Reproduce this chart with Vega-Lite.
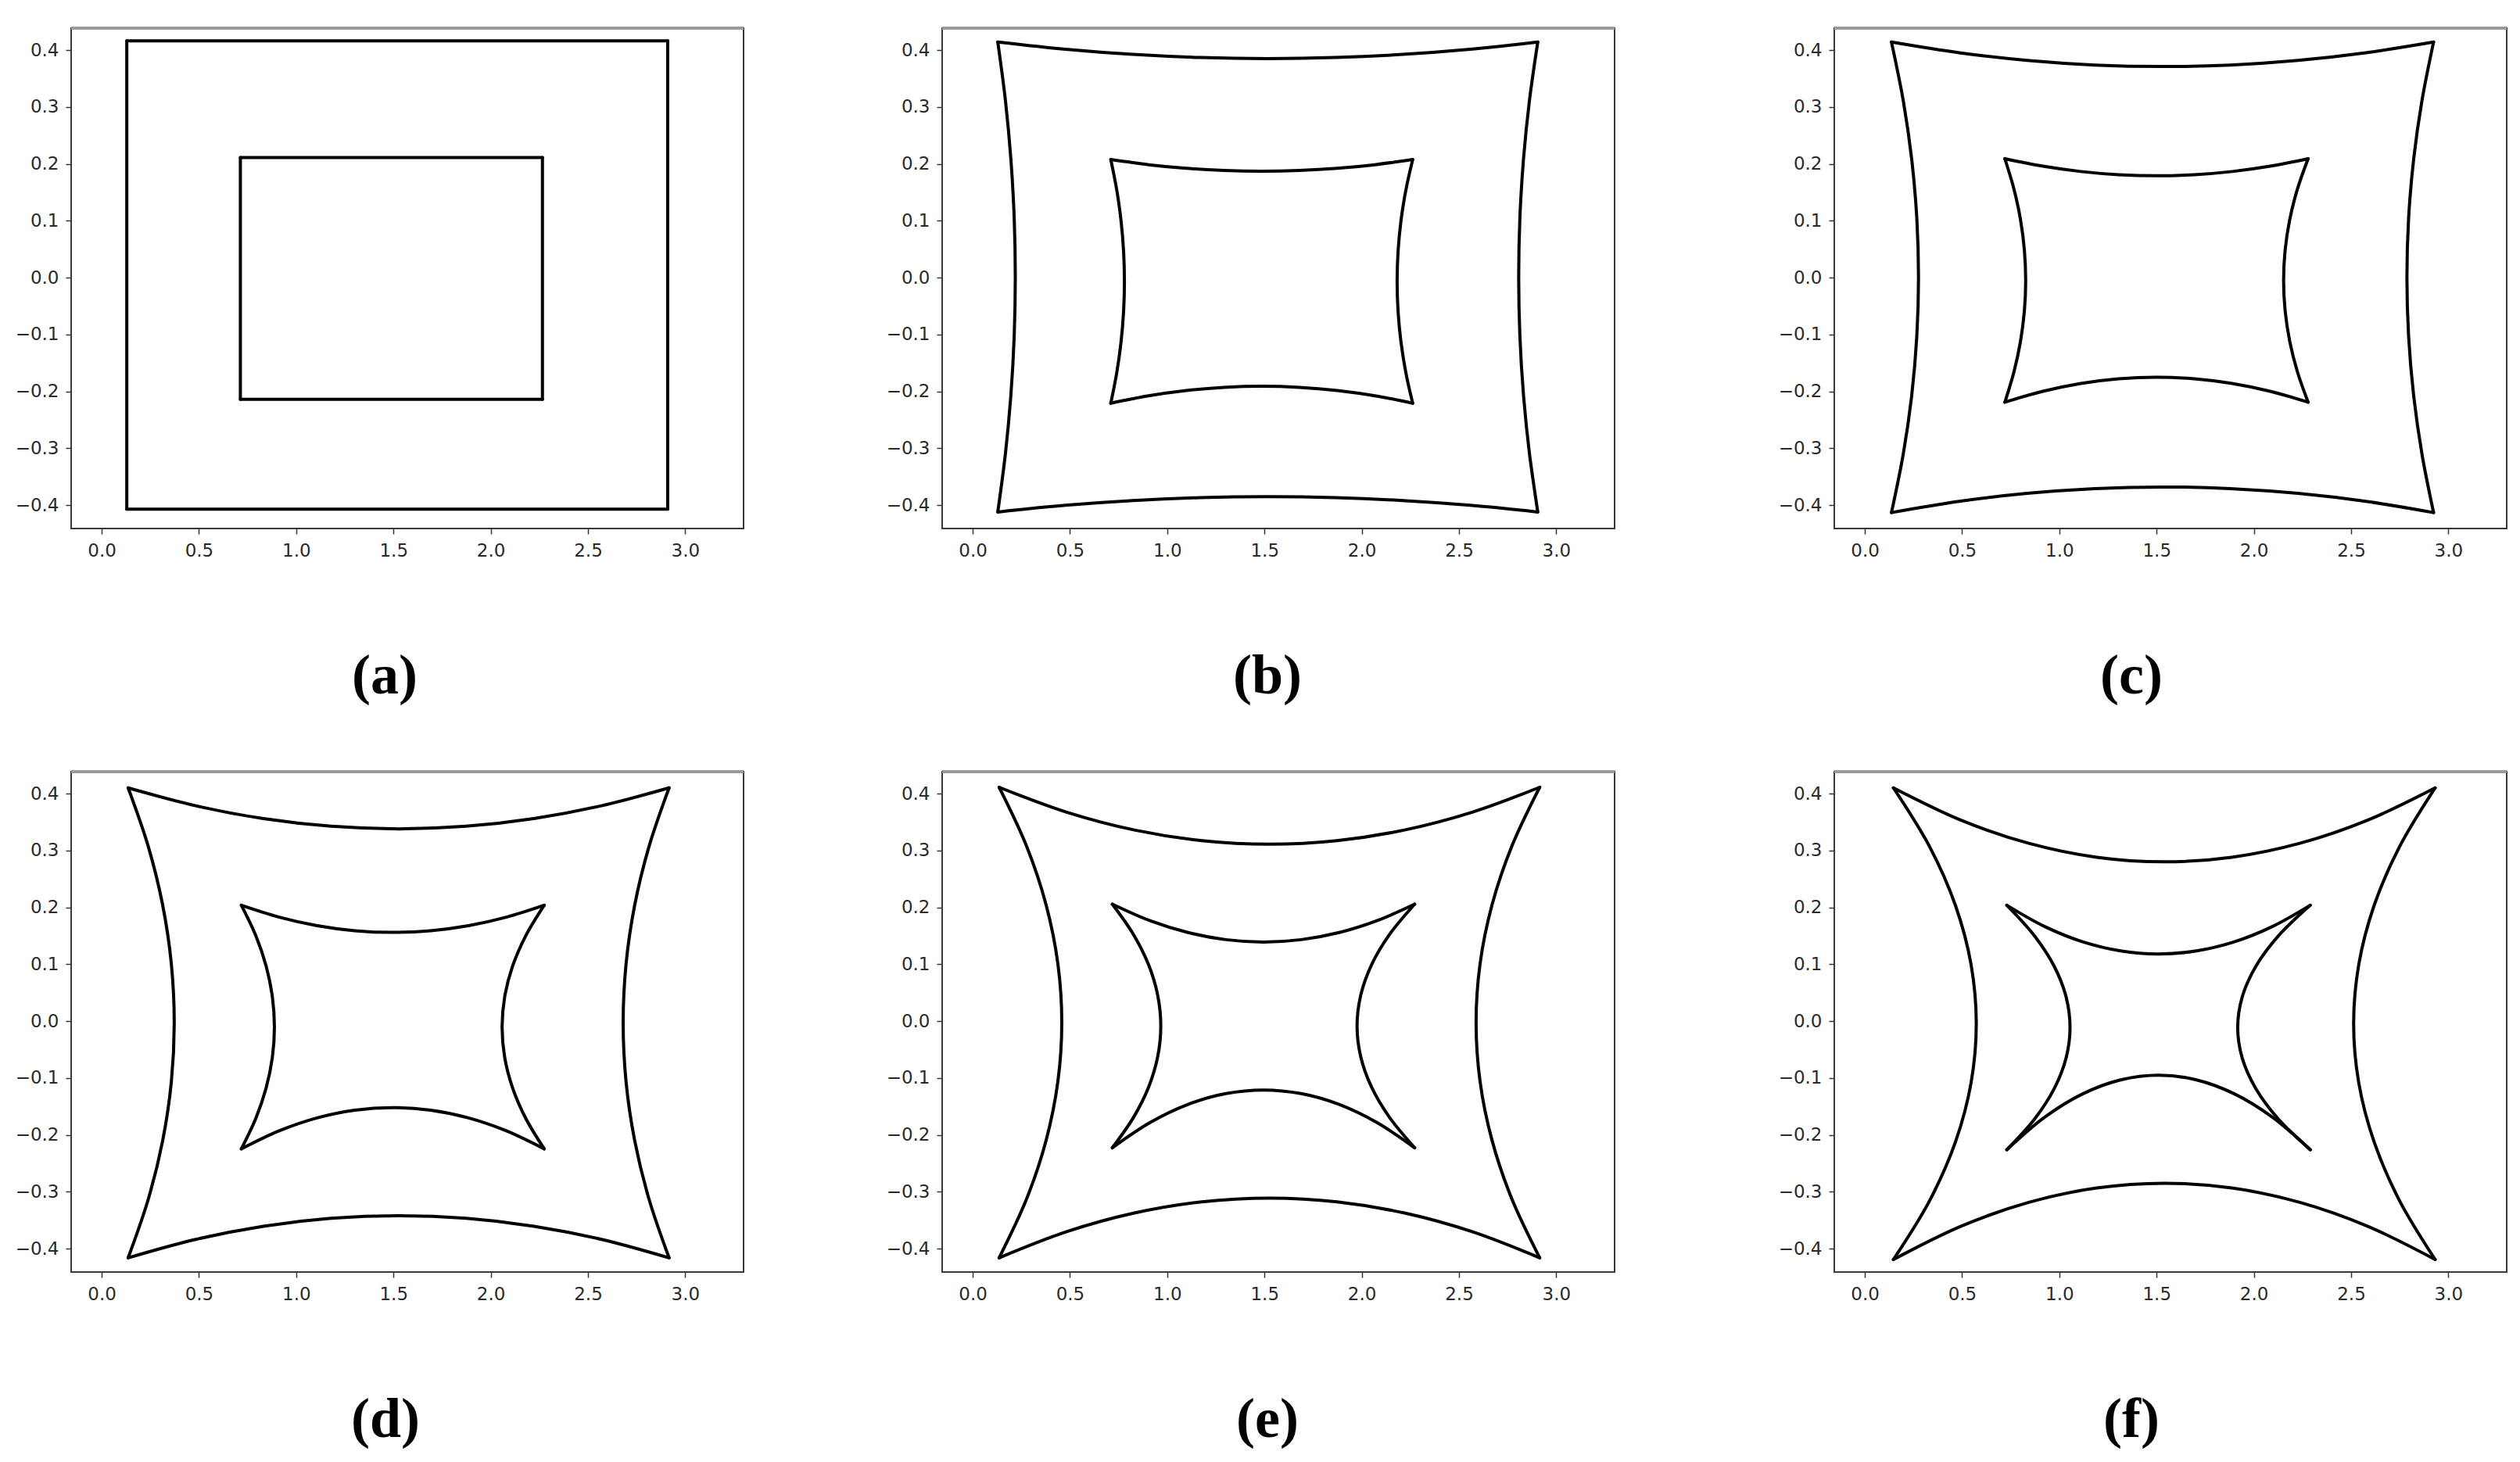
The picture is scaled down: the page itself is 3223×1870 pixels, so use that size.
{
"$schema": "https://vega.github.io/schema/vega-lite/v6.json",
"background": "white",
"padding": {"left": 18, "top": 33, "right": 0, "bottom": 0},
"datasets": {"shapes": [
{"p":"a","e":"ot","k":0,"x":0.129,"y":0.416},{"p":"a","e":"ot","k":1,"x":2.91,"y":0.416},
{"p":"a","e":"or","k":0,"x":2.91,"y":0.416},{"p":"a","e":"or","k":1,"x":2.91,"y":-0.407},
{"p":"a","e":"ob","k":0,"x":2.91,"y":-0.407},{"p":"a","e":"ob","k":1,"x":0.129,"y":-0.407},
{"p":"a","e":"ol","k":0,"x":0.129,"y":-0.407},{"p":"a","e":"ol","k":1,"x":0.129,"y":0.416},
{"p":"a","e":"it","k":0,"x":0.713,"y":0.211},{"p":"a","e":"it","k":1,"x":2.266,"y":0.211},
{"p":"a","e":"ir","k":0,"x":2.266,"y":0.211},{"p":"a","e":"ir","k":1,"x":2.266,"y":-0.214},
{"p":"a","e":"ib","k":0,"x":2.266,"y":-0.214},{"p":"a","e":"ib","k":1,"x":0.713,"y":-0.214},
{"p":"a","e":"il","k":0,"x":0.713,"y":-0.214},{"p":"a","e":"il","k":1,"x":0.713,"y":0.211},

{"p":"b","e":"ot","k":0,"x":0.129,"y":0.414},{"p":"b","e":"ot","k":1,"x":0.476,"y":0.4013},{"p":"b","e":"ot","k":2,"x":0.823,"y":0.3923},{"p":"b","e":"ot","k":3,"x":1.17,"y":0.3868},{"p":"b","e":"ot","k":4,"x":1.517,"y":0.385},{"p":"b","e":"ot","k":5,"x":1.864,"y":0.3868},{"p":"b","e":"ot","k":6,"x":2.211,"y":0.3923},{"p":"b","e":"ot","k":7,"x":2.558,"y":0.4013},{"p":"b","e":"ot","k":8,"x":2.905,"y":0.414},
{"p":"b","e":"or","k":0,"x":2.905,"y":0.414},{"p":"b","e":"or","k":1,"x":2.8621,"y":0.3108},{"p":"b","e":"or","k":2,"x":2.8315,"y":0.2075},{"p":"b","e":"or","k":3,"x":2.8131,"y":0.1043},{"p":"b","e":"or","k":4,"x":2.807,"y":0.001},{"p":"b","e":"or","k":5,"x":2.8131,"y":-0.1023},{"p":"b","e":"or","k":6,"x":2.8315,"y":-0.2055},{"p":"b","e":"or","k":7,"x":2.8621,"y":-0.3088},{"p":"b","e":"or","k":8,"x":2.905,"y":-0.412},
{"p":"b","e":"ob","k":0,"x":2.905,"y":-0.412},{"p":"b","e":"ob","k":1,"x":2.558,"y":-0.4002},{"p":"b","e":"ob","k":2,"x":2.211,"y":-0.3918},{"p":"b","e":"ob","k":3,"x":1.864,"y":-0.3867},{"p":"b","e":"ob","k":4,"x":1.517,"y":-0.385},{"p":"b","e":"ob","k":5,"x":1.17,"y":-0.3867},{"p":"b","e":"ob","k":6,"x":0.823,"y":-0.3918},{"p":"b","e":"ob","k":7,"x":0.476,"y":-0.4002},{"p":"b","e":"ob","k":8,"x":0.129,"y":-0.412},
{"p":"b","e":"ol","k":0,"x":0.129,"y":-0.412},{"p":"b","e":"ol","k":1,"x":0.1684,"y":-0.3088},{"p":"b","e":"ol","k":2,"x":0.1965,"y":-0.2055},{"p":"b","e":"ol","k":3,"x":0.2134,"y":-0.1023},{"p":"b","e":"ol","k":4,"x":0.219,"y":0.001},{"p":"b","e":"ol","k":5,"x":0.2134,"y":0.1043},{"p":"b","e":"ol","k":6,"x":0.1965,"y":0.2075},{"p":"b","e":"ol","k":7,"x":0.1684,"y":0.3108},{"p":"b","e":"ol","k":8,"x":0.129,"y":0.414},
{"p":"b","e":"it","k":0,"x":0.71,"y":0.2075},{"p":"b","e":"it","k":1,"x":0.904,"y":0.1985},{"p":"b","e":"it","k":2,"x":1.098,"y":0.1921},{"p":"b","e":"it","k":3,"x":1.292,"y":0.1883},{"p":"b","e":"it","k":4,"x":1.486,"y":0.187},{"p":"b","e":"it","k":5,"x":1.68,"y":0.1883},{"p":"b","e":"it","k":6,"x":1.874,"y":0.1921},{"p":"b","e":"it","k":7,"x":2.068,"y":0.1985},{"p":"b","e":"it","k":8,"x":2.262,"y":0.2075},
{"p":"b","e":"ir","k":0,"x":2.262,"y":0.2075},{"p":"b","e":"ir","k":1,"x":2.227,"y":0.154},{"p":"b","e":"ir","k":2,"x":2.202,"y":0.1005},{"p":"b","e":"ir","k":3,"x":2.187,"y":0.0469},{"p":"b","e":"ir","k":4,"x":2.182,"y":-0.0066},{"p":"b","e":"ir","k":5,"x":2.187,"y":-0.0601},{"p":"b","e":"ir","k":6,"x":2.202,"y":-0.1137},{"p":"b","e":"ir","k":7,"x":2.227,"y":-0.1672},{"p":"b","e":"ir","k":8,"x":2.262,"y":-0.2207},
{"p":"b","e":"ib","k":0,"x":2.262,"y":-0.2207},{"p":"b","e":"ib","k":1,"x":2.068,"y":-0.2077},{"p":"b","e":"ib","k":2,"x":1.874,"y":-0.1984},{"p":"b","e":"ib","k":3,"x":1.68,"y":-0.1929},{"p":"b","e":"ib","k":4,"x":1.486,"y":-0.191},{"p":"b","e":"ib","k":5,"x":1.292,"y":-0.1929},{"p":"b","e":"ib","k":6,"x":1.098,"y":-0.1984},{"p":"b","e":"ib","k":7,"x":0.904,"y":-0.2077},{"p":"b","e":"ib","k":8,"x":0.71,"y":-0.2207},
{"p":"b","e":"il","k":0,"x":0.71,"y":-0.2207},{"p":"b","e":"il","k":1,"x":0.7406,"y":-0.1672},{"p":"b","e":"il","k":2,"x":0.7625,"y":-0.1137},{"p":"b","e":"il","k":3,"x":0.7756,"y":-0.0601},{"p":"b","e":"il","k":4,"x":0.78,"y":-0.0066},{"p":"b","e":"il","k":5,"x":0.7756,"y":0.0469},{"p":"b","e":"il","k":6,"x":0.7625,"y":0.1005},{"p":"b","e":"il","k":7,"x":0.7406,"y":0.154},{"p":"b","e":"il","k":8,"x":0.71,"y":0.2075},

{"p":"c","e":"ot","k":0,"x":0.137,"y":0.414},{"p":"c","e":"ot","k":1,"x":0.485,"y":0.3952},{"p":"c","e":"ot","k":2,"x":0.834,"y":0.3818},{"p":"c","e":"ot","k":3,"x":1.182,"y":0.3737},{"p":"c","e":"ot","k":4,"x":1.5305,"y":0.371},{"p":"c","e":"ot","k":5,"x":1.879,"y":0.3737},{"p":"c","e":"ot","k":6,"x":2.227,"y":0.3818},{"p":"c","e":"ot","k":7,"x":2.576,"y":0.3952},{"p":"c","e":"ot","k":8,"x":2.924,"y":0.414},
{"p":"c","e":"or","k":0,"x":2.924,"y":0.414},{"p":"c","e":"or","k":1,"x":2.864,"y":0.3106},{"p":"c","e":"or","k":2,"x":2.8213,"y":0.2073},{"p":"c","e":"or","k":3,"x":2.7956,"y":0.1039},{"p":"c","e":"or","k":4,"x":2.787,"y":0.0005},{"p":"c","e":"or","k":5,"x":2.7956,"y":-0.1029},{"p":"c","e":"or","k":6,"x":2.8213,"y":-0.2063},{"p":"c","e":"or","k":7,"x":2.864,"y":-0.3096},{"p":"c","e":"or","k":8,"x":2.924,"y":-0.413},
{"p":"c","e":"ob","k":0,"x":2.924,"y":-0.413},{"p":"c","e":"ob","k":1,"x":2.576,"y":-0.3933},{"p":"c","e":"ob","k":2,"x":2.227,"y":-0.3793},{"p":"c","e":"ob","k":3,"x":1.879,"y":-0.3708},{"p":"c","e":"ob","k":4,"x":1.5305,"y":-0.368},{"p":"c","e":"ob","k":5,"x":1.182,"y":-0.3708},{"p":"c","e":"ob","k":6,"x":0.834,"y":-0.3793},{"p":"c","e":"ob","k":7,"x":0.485,"y":-0.3933},{"p":"c","e":"ob","k":8,"x":0.137,"y":-0.413},
{"p":"c","e":"ol","k":0,"x":0.137,"y":-0.413},{"p":"c","e":"ol","k":1,"x":0.1978,"y":-0.3096},{"p":"c","e":"ol","k":2,"x":0.2413,"y":-0.2063},{"p":"c","e":"ol","k":3,"x":0.2673,"y":-0.1029},{"p":"c","e":"ol","k":4,"x":0.276,"y":0.0005},{"p":"c","e":"ol","k":5,"x":0.2673,"y":0.1039},{"p":"c","e":"ol","k":6,"x":0.2413,"y":0.2073},{"p":"c","e":"ol","k":7,"x":0.1978,"y":0.3106},{"p":"c","e":"ol","k":8,"x":0.137,"y":0.414},
{"p":"c","e":"it","k":0,"x":0.72,"y":0.209},{"p":"c","e":"it","k":1,"x":0.915,"y":0.1959},{"p":"c","e":"it","k":2,"x":1.11,"y":0.1865},{"p":"c","e":"it","k":3,"x":1.305,"y":0.1809},{"p":"c","e":"it","k":4,"x":1.4995,"y":0.179},{"p":"c","e":"it","k":5,"x":1.694,"y":0.1809},{"p":"c","e":"it","k":6,"x":1.889,"y":0.1865},{"p":"c","e":"it","k":7,"x":2.084,"y":0.1959},{"p":"c","e":"it","k":8,"x":2.279,"y":0.209},
{"p":"c","e":"ir","k":0,"x":2.279,"y":0.209},{"p":"c","e":"ir","k":1,"x":2.2239,"y":0.1555},{"p":"c","e":"ir","k":2,"x":2.1845,"y":0.102},{"p":"c","e":"ir","k":3,"x":2.1609,"y":0.0485},{"p":"c","e":"ir","k":4,"x":2.153,"y":-0.005},{"p":"c","e":"ir","k":5,"x":2.1609,"y":-0.0585},{"p":"c","e":"ir","k":6,"x":2.1845,"y":-0.112},{"p":"c","e":"ir","k":7,"x":2.2239,"y":-0.1655},{"p":"c","e":"ir","k":8,"x":2.279,"y":-0.219},
{"p":"c","e":"ib","k":0,"x":2.279,"y":-0.219},{"p":"c","e":"ib","k":1,"x":2.084,"y":-0.1998},{"p":"c","e":"ib","k":2,"x":1.889,"y":-0.186},{"p":"c","e":"ib","k":3,"x":1.694,"y":-0.1778},{"p":"c","e":"ib","k":4,"x":1.4995,"y":-0.175},{"p":"c","e":"ib","k":5,"x":1.305,"y":-0.1778},{"p":"c","e":"ib","k":6,"x":1.11,"y":-0.186},{"p":"c","e":"ib","k":7,"x":0.915,"y":-0.1998},{"p":"c","e":"ib","k":8,"x":0.72,"y":-0.219},
{"p":"c","e":"il","k":0,"x":0.72,"y":-0.219},{"p":"c","e":"il","k":1,"x":0.7668,"y":-0.1655},{"p":"c","e":"il","k":2,"x":0.8003,"y":-0.112},{"p":"c","e":"il","k":3,"x":0.8203,"y":-0.0585},{"p":"c","e":"il","k":4,"x":0.827,"y":-0.005},{"p":"c","e":"il","k":5,"x":0.8203,"y":0.0485},{"p":"c","e":"il","k":6,"x":0.8003,"y":0.102},{"p":"c","e":"il","k":7,"x":0.7668,"y":0.1555},{"p":"c","e":"il","k":8,"x":0.72,"y":0.209},

{"p":"d","e":"ot","k":0,"x":0.136,"y":0.41},{"p":"d","e":"ot","k":1,"x":0.484,"y":0.3785},{"p":"d","e":"ot","k":2,"x":0.831,"y":0.356},{"p":"d","e":"ot","k":3,"x":1.179,"y":0.3425},{"p":"d","e":"ot","k":4,"x":1.5265,"y":0.338},{"p":"d","e":"ot","k":5,"x":1.874,"y":0.3425},{"p":"d","e":"ot","k":6,"x":2.222,"y":0.356},{"p":"d","e":"ot","k":7,"x":2.569,"y":0.3785},{"p":"d","e":"ot","k":8,"x":2.917,"y":0.41},
{"p":"d","e":"or","k":0,"x":2.917,"y":0.41},{"p":"d","e":"or","k":1,"x":2.8138,"y":0.3068},{"p":"d","e":"or","k":2,"x":2.74,"y":0.2035},{"p":"d","e":"or","k":3,"x":2.6958,"y":0.1003},{"p":"d","e":"or","k":4,"x":2.681,"y":-0.003},{"p":"d","e":"or","k":5,"x":2.6958,"y":-0.1063},{"p":"d","e":"or","k":6,"x":2.74,"y":-0.2095},{"p":"d","e":"or","k":7,"x":2.8138,"y":-0.3128},{"p":"d","e":"or","k":8,"x":2.917,"y":-0.416},
{"p":"d","e":"ob","k":0,"x":2.917,"y":-0.416},{"p":"d","e":"ob","k":1,"x":2.569,"y":-0.3836},{"p":"d","e":"ob","k":2,"x":2.222,"y":-0.3605},{"p":"d","e":"ob","k":3,"x":1.874,"y":-0.3466},{"p":"d","e":"ob","k":4,"x":1.5265,"y":-0.342},{"p":"d","e":"ob","k":5,"x":1.179,"y":-0.3466},{"p":"d","e":"ob","k":6,"x":0.831,"y":-0.3605},{"p":"d","e":"ob","k":7,"x":0.484,"y":-0.3836},{"p":"d","e":"ob","k":8,"x":0.136,"y":-0.416},
{"p":"d","e":"ol","k":0,"x":0.136,"y":-0.416},{"p":"d","e":"ol","k":1,"x":0.2397,"y":-0.3128},{"p":"d","e":"ol","k":2,"x":0.3138,"y":-0.2095},{"p":"d","e":"ol","k":3,"x":0.3582,"y":-0.1063},{"p":"d","e":"ol","k":4,"x":0.373,"y":-0.003},{"p":"d","e":"ol","k":5,"x":0.3582,"y":0.1003},{"p":"d","e":"ol","k":6,"x":0.3138,"y":0.2035},{"p":"d","e":"ol","k":7,"x":0.2397,"y":0.3068},{"p":"d","e":"ol","k":8,"x":0.136,"y":0.41},
{"p":"d","e":"it","k":0,"x":0.718,"y":0.2037},{"p":"d","e":"it","k":1,"x":0.9126,"y":0.1828},{"p":"d","e":"it","k":2,"x":1.1073,"y":0.1679},{"p":"d","e":"it","k":3,"x":1.3019,"y":0.159},{"p":"d","e":"it","k":4,"x":1.4965,"y":0.156},{"p":"d","e":"it","k":5,"x":1.6911,"y":0.159},{"p":"d","e":"it","k":6,"x":1.8858,"y":0.1679},{"p":"d","e":"it","k":7,"x":2.0804,"y":0.1828},{"p":"d","e":"it","k":8,"x":2.275,"y":0.2037},
{"p":"d","e":"ir","k":0,"x":2.275,"y":0.2037},{"p":"d","e":"ir","k":1,"x":2.1803,"y":0.1502},{"p":"d","e":"ir","k":2,"x":2.1126,"y":0.0967},{"p":"d","e":"ir","k":3,"x":2.072,"y":0.0431},{"p":"d","e":"ir","k":4,"x":2.0585,"y":-0.0104},{"p":"d","e":"ir","k":5,"x":2.072,"y":-0.0639},{"p":"d","e":"ir","k":6,"x":2.1126,"y":-0.1175},{"p":"d","e":"ir","k":7,"x":2.1803,"y":-0.171},{"p":"d","e":"ir","k":8,"x":2.275,"y":-0.2245},
{"p":"d","e":"ib","k":0,"x":2.275,"y":-0.2245},{"p":"d","e":"ib","k":1,"x":2.0804,"y":-0.1928},{"p":"d","e":"ib","k":2,"x":1.8858,"y":-0.1701},{"p":"d","e":"ib","k":3,"x":1.6911,"y":-0.1565},{"p":"d","e":"ib","k":4,"x":1.4965,"y":-0.152},{"p":"d","e":"ib","k":5,"x":1.3019,"y":-0.1565},{"p":"d","e":"ib","k":6,"x":1.1073,"y":-0.1701},{"p":"d","e":"ib","k":7,"x":0.9126,"y":-0.1928},{"p":"d","e":"ib","k":8,"x":0.718,"y":-0.2245},
{"p":"d","e":"il","k":0,"x":0.718,"y":-0.2245},{"p":"d","e":"il","k":1,"x":0.7924,"y":-0.171},{"p":"d","e":"il","k":2,"x":0.8455,"y":-0.1175},{"p":"d","e":"il","k":3,"x":0.8774,"y":-0.0639},{"p":"d","e":"il","k":4,"x":0.888,"y":-0.0104},{"p":"d","e":"il","k":5,"x":0.8774,"y":0.0431},{"p":"d","e":"il","k":6,"x":0.8455,"y":0.0967},{"p":"d","e":"il","k":7,"x":0.7924,"y":0.1502},{"p":"d","e":"il","k":8,"x":0.718,"y":0.2037},

{"p":"e","e":"ot","k":0,"x":0.136,"y":0.411},{"p":"e","e":"ot","k":1,"x":0.483,"y":0.3673},{"p":"e","e":"ot","k":2,"x":0.831,"y":0.336},{"p":"e","e":"ot","k":3,"x":1.178,"y":0.3173},{"p":"e","e":"ot","k":4,"x":1.5255,"y":0.311},{"p":"e","e":"ot","k":5,"x":1.873,"y":0.3173},{"p":"e","e":"ot","k":6,"x":2.22,"y":0.336},{"p":"e","e":"ot","k":7,"x":2.568,"y":0.3673},{"p":"e","e":"ot","k":8,"x":2.915,"y":0.411},
{"p":"e","e":"or","k":0,"x":2.915,"y":0.411},{"p":"e","e":"or","k":1,"x":2.7719,"y":0.3076},{"p":"e","e":"or","k":2,"x":2.6698,"y":0.2043},{"p":"e","e":"or","k":3,"x":2.6084,"y":0.1009},{"p":"e","e":"or","k":4,"x":2.588,"y":-0.0025},{"p":"e","e":"or","k":5,"x":2.6084,"y":-0.1059},{"p":"e","e":"or","k":6,"x":2.6698,"y":-0.2093},{"p":"e","e":"or","k":7,"x":2.7719,"y":-0.3126},{"p":"e","e":"or","k":8,"x":2.915,"y":-0.416},
{"p":"e","e":"ob","k":0,"x":2.915,"y":-0.416},{"p":"e","e":"ob","k":1,"x":2.568,"y":-0.3701},{"p":"e","e":"ob","k":2,"x":2.22,"y":-0.3373},{"p":"e","e":"ob","k":3,"x":1.873,"y":-0.3176},{"p":"e","e":"ob","k":4,"x":1.5255,"y":-0.311},{"p":"e","e":"ob","k":5,"x":1.178,"y":-0.3176},{"p":"e","e":"ob","k":6,"x":0.831,"y":-0.3373},{"p":"e","e":"ob","k":7,"x":0.483,"y":-0.3701},{"p":"e","e":"ob","k":8,"x":0.136,"y":-0.416},
{"p":"e","e":"ol","k":0,"x":0.136,"y":-0.416},{"p":"e","e":"ol","k":1,"x":0.2769,"y":-0.3126},{"p":"e","e":"ol","k":2,"x":0.3775,"y":-0.2093},{"p":"e","e":"ol","k":3,"x":0.4379,"y":-0.1059},{"p":"e","e":"ol","k":4,"x":0.458,"y":-0.0025},{"p":"e","e":"ol","k":5,"x":0.4379,"y":0.1009},{"p":"e","e":"ol","k":6,"x":0.3775,"y":0.2043},{"p":"e","e":"ol","k":7,"x":0.2769,"y":0.3076},{"p":"e","e":"ol","k":8,"x":0.136,"y":0.411},
{"p":"e","e":"it","k":0,"x":0.718,"y":0.2056},{"p":"e","e":"it","k":1,"x":0.912,"y":0.1765},{"p":"e","e":"it","k":2,"x":1.107,"y":0.1557},{"p":"e","e":"it","k":3,"x":1.301,"y":0.1432},{"p":"e","e":"it","k":4,"x":1.495,"y":0.139},{"p":"e","e":"it","k":5,"x":1.689,"y":0.1432},{"p":"e","e":"it","k":6,"x":1.884,"y":0.1557},{"p":"e","e":"it","k":7,"x":2.078,"y":0.1765},{"p":"e","e":"it","k":8,"x":2.272,"y":0.2056},
{"p":"e","e":"ir","k":0,"x":2.272,"y":0.2056},{"p":"e","e":"ir","k":1,"x":2.1425,"y":0.1521},{"p":"e","e":"ir","k":2,"x":2.05,"y":0.0986},{"p":"e","e":"ir","k":3,"x":1.9945,"y":0.045},{"p":"e","e":"ir","k":4,"x":1.976,"y":-0.0085},{"p":"e","e":"ir","k":5,"x":1.9945,"y":-0.062},{"p":"e","e":"ir","k":6,"x":2.05,"y":-0.1156},{"p":"e","e":"ir","k":7,"x":2.1425,"y":-0.1691},{"p":"e","e":"ir","k":8,"x":2.272,"y":-0.2226},
{"p":"e","e":"ib","k":0,"x":2.272,"y":-0.2226},{"p":"e","e":"ib","k":1,"x":2.078,"y":-0.1782},{"p":"e","e":"ib","k":2,"x":1.884,"y":-0.1464},{"p":"e","e":"ib","k":3,"x":1.689,"y":-0.1274},{"p":"e","e":"ib","k":4,"x":1.495,"y":-0.121},{"p":"e","e":"ib","k":5,"x":1.301,"y":-0.1274},{"p":"e","e":"ib","k":6,"x":1.107,"y":-0.1464},{"p":"e","e":"ib","k":7,"x":0.912,"y":-0.1782},{"p":"e","e":"ib","k":8,"x":0.718,"y":-0.2226},
{"p":"e","e":"il","k":0,"x":0.718,"y":-0.2226},{"p":"e","e":"il","k":1,"x":0.8269,"y":-0.1691},{"p":"e","e":"il","k":2,"x":0.9048,"y":-0.1156},{"p":"e","e":"il","k":3,"x":0.9514,"y":-0.062},{"p":"e","e":"il","k":4,"x":0.967,"y":-0.0085},{"p":"e","e":"il","k":5,"x":0.9514,"y":0.045},{"p":"e","e":"il","k":6,"x":0.9048,"y":0.0986},{"p":"e","e":"il","k":7,"x":0.8269,"y":0.1521},{"p":"e","e":"il","k":8,"x":0.718,"y":0.2056},

{"p":"f","e":"ot","k":0,"x":0.147,"y":0.41},{"p":"f","e":"ot","k":1,"x":0.495,"y":0.3531},{"p":"f","e":"ot","k":2,"x":0.843,"y":0.3125},{"p":"f","e":"ot","k":3,"x":1.191,"y":0.2881},{"p":"f","e":"ot","k":4,"x":1.5395,"y":0.28},{"p":"f","e":"ot","k":5,"x":1.888,"y":0.2881},{"p":"f","e":"ot","k":6,"x":2.236,"y":0.3125},{"p":"f","e":"ot","k":7,"x":2.584,"y":0.3531},{"p":"f","e":"ot","k":8,"x":2.932,"y":0.41},
{"p":"f","e":"or","k":0,"x":2.932,"y":0.41},{"p":"f","e":"or","k":1,"x":2.7487,"y":0.3064},{"p":"f","e":"or","k":2,"x":2.6178,"y":0.2028},{"p":"f","e":"or","k":3,"x":2.5392,"y":0.0991},{"p":"f","e":"or","k":4,"x":2.513,"y":-0.0045},{"p":"f","e":"or","k":5,"x":2.5392,"y":-0.1081},{"p":"f","e":"or","k":6,"x":2.6178,"y":-0.2118},{"p":"f","e":"or","k":7,"x":2.7487,"y":-0.3154},{"p":"f","e":"or","k":8,"x":2.932,"y":-0.419},
{"p":"f","e":"ob","k":0,"x":2.932,"y":-0.419},{"p":"f","e":"ob","k":1,"x":2.584,"y":-0.3604},{"p":"f","e":"ob","k":2,"x":2.236,"y":-0.3185},{"p":"f","e":"ob","k":3,"x":1.888,"y":-0.2934},{"p":"f","e":"ob","k":4,"x":1.5395,"y":-0.285},{"p":"f","e":"ob","k":5,"x":1.191,"y":-0.2934},{"p":"f","e":"ob","k":6,"x":0.843,"y":-0.3185},{"p":"f","e":"ob","k":7,"x":0.495,"y":-0.3604},{"p":"f","e":"ob","k":8,"x":0.147,"y":-0.419},
{"p":"f","e":"ol","k":0,"x":0.147,"y":-0.419},{"p":"f","e":"ol","k":1,"x":0.3334,"y":-0.3154},{"p":"f","e":"ol","k":2,"x":0.4665,"y":-0.2118},{"p":"f","e":"ol","k":3,"x":0.5464,"y":-0.1081},{"p":"f","e":"ol","k":4,"x":0.573,"y":-0.0045},{"p":"f","e":"ol","k":5,"x":0.5464,"y":0.0991},{"p":"f","e":"ol","k":6,"x":0.4665,"y":0.2028},{"p":"f","e":"ol","k":7,"x":0.3334,"y":0.3064},{"p":"f","e":"ol","k":8,"x":0.147,"y":0.41},
{"p":"f","e":"it","k":0,"x":0.73,"y":0.2037},{"p":"f","e":"it","k":1,"x":0.925,"y":0.1662},{"p":"f","e":"it","k":2,"x":1.12,"y":0.1394},{"p":"f","e":"it","k":3,"x":1.315,"y":0.1234},{"p":"f","e":"it","k":4,"x":1.51,"y":0.118},{"p":"f","e":"it","k":5,"x":1.705,"y":0.1234},{"p":"f","e":"it","k":6,"x":1.9,"y":0.1394},{"p":"f","e":"it","k":7,"x":2.095,"y":0.1662},{"p":"f","e":"it","k":8,"x":2.29,"y":0.2037},
{"p":"f","e":"ir","k":0,"x":2.29,"y":0.2037},{"p":"f","e":"ir","k":1,"x":2.1268,"y":0.15},{"p":"f","e":"ir","k":2,"x":2.0103,"y":0.0963},{"p":"f","e":"ir","k":3,"x":1.9403,"y":0.0426},{"p":"f","e":"ir","k":4,"x":1.917,"y":-0.0112},{"p":"f","e":"ir","k":5,"x":1.9403,"y":-0.0649},{"p":"f","e":"ir","k":6,"x":2.0103,"y":-0.1186},{"p":"f","e":"ir","k":7,"x":2.1268,"y":-0.1723},{"p":"f","e":"ir","k":8,"x":2.29,"y":-0.226},
{"p":"f","e":"ib","k":0,"x":2.29,"y":-0.226},{"p":"f","e":"ib","k":1,"x":2.095,"y":-0.1687},{"p":"f","e":"ib","k":2,"x":1.9,"y":-0.1278},{"p":"f","e":"ib","k":3,"x":1.705,"y":-0.1032},{"p":"f","e":"ib","k":4,"x":1.51,"y":-0.095},{"p":"f","e":"ib","k":5,"x":1.315,"y":-0.1032},{"p":"f","e":"ib","k":6,"x":1.12,"y":-0.1278},{"p":"f","e":"ib","k":7,"x":0.925,"y":-0.1687},{"p":"f","e":"ib","k":8,"x":0.73,"y":-0.226},
{"p":"f","e":"il","k":0,"x":0.73,"y":-0.226},{"p":"f","e":"il","k":1,"x":0.8722,"y":-0.1723},{"p":"f","e":"il","k":2,"x":0.9738,"y":-0.1186},{"p":"f","e":"il","k":3,"x":1.0347,"y":-0.0649},{"p":"f","e":"il","k":4,"x":1.055,"y":-0.0112},{"p":"f","e":"il","k":5,"x":1.0347,"y":0.0426},{"p":"f","e":"il","k":6,"x":0.9738,"y":0.0963},{"p":"f","e":"il","k":7,"x":0.8722,"y":0.15},{"p":"f","e":"il","k":8,"x":0.73,"y":0.2037}
]},
"vconcat": [
 {"hconcat": [
  {"hconcat": [
   {"width": 860, "height": 640, "title": {"text": "(a)", "dx": -29},
    "layer": [
     {"data": {"name": "shapes"}, "transform": [{"filter": "datum.p === 'a'"}],
      "mark": {"type": "line", "interpolate": "catmull-rom", "color": "#000", "strokeWidth": 4, "strokeCap": "round", "strokeJoin": "round"},
      "encoding": {
       "x": {"field": "x", "type": "quantitative", "scale": {"domain": [-0.157, 3.3], "nice": false, "zero": false}, "axis": {"title": null, "values": [0, 0.5, 1, 1.5, 2, 2.5, 3], "format": ".1f"}},
       "y": {"field": "y", "type": "quantitative", "scale": {"domain": [-0.441, 0.4385], "nice": false, "zero": false}, "axis": {"title": null, "values": [-0.4, -0.3, -0.2, -0.1, 0, 0.1, 0.2, 0.3, 0.4], "format": ".1f"}},
       "detail": {"field": "e"}, "order": {"field": "k", "type": "quantitative"}}},
     {"data": {"values": [{}]}, "mark": {"type": "rule", "color": "#9a9a9a", "strokeWidth": 4}, "encoding": {"y": {"datum": 0.4385}}}
    ]},
   {"width": 860, "height": 640, "title": {"text": "(b)", "dx": -14},
    "layer": [
     {"data": {"name": "shapes"}, "transform": [{"filter": "datum.p === 'b'"}],
      "mark": {"type": "line", "interpolate": "catmull-rom", "color": "#000", "strokeWidth": 4, "strokeCap": "round", "strokeJoin": "round"},
      "encoding": {
       "x": {"field": "x", "type": "quantitative", "scale": {"domain": [-0.157, 3.3], "nice": false, "zero": false}, "axis": {"title": null, "values": [0, 0.5, 1, 1.5, 2, 2.5, 3], "format": ".1f"}},
       "y": {"field": "y", "type": "quantitative", "scale": {"domain": [-0.441, 0.4385], "nice": false, "zero": false}, "axis": {"title": null, "values": [-0.4, -0.3, -0.2, -0.1, 0, 0.1, 0.2, 0.3, 0.4], "format": ".1f"}},
       "detail": {"field": "e"}, "order": {"field": "k", "type": "quantitative"}}},
     {"data": {"values": [{}]}, "mark": {"type": "rule", "color": "#9a9a9a", "strokeWidth": 4}, "encoding": {"y": {"datum": 0.4385}}}
    ]}
  ], "spacing": 178},
  {"width": 860, "height": 640, "title": {"text": "(c)", "dx": -50},
   "layer": [
    {"data": {"name": "shapes"}, "transform": [{"filter": "datum.p === 'c'"}],
     "mark": {"type": "line", "interpolate": "catmull-rom", "color": "#000", "strokeWidth": 4, "strokeCap": "round", "strokeJoin": "round"},
     "encoding": {
      "x": {"field": "x", "type": "quantitative", "scale": {"domain": [-0.157, 3.3], "nice": false, "zero": false}, "axis": {"title": null, "values": [0, 0.5, 1, 1.5, 2, 2.5, 3], "format": ".1f"}},
      "y": {"field": "y", "type": "quantitative", "scale": {"domain": [-0.441, 0.4385], "nice": false, "zero": false}, "axis": {"title": null, "values": [-0.4, -0.3, -0.2, -0.1, 0, 0.1, 0.2, 0.3, 0.4], "format": ".1f"}},
      "detail": {"field": "e"}, "order": {"field": "k", "type": "quantitative"}}},
    {"data": {"values": [{}]}, "mark": {"type": "rule", "color": "#9a9a9a", "strokeWidth": 4}, "encoding": {"y": {"datum": 0.4385}}}
   ]}
 ], "spacing": 205},
 {"hconcat": [
  {"hconcat": [
   {"width": 860, "height": 640, "title": {"text": "(d)", "dx": -28},
    "layer": [
     {"data": {"name": "shapes"}, "transform": [{"filter": "datum.p === 'd'"}],
      "mark": {"type": "line", "interpolate": "catmull-rom", "color": "#000", "strokeWidth": 4, "strokeCap": "round", "strokeJoin": "round"},
      "encoding": {
       "x": {"field": "x", "type": "quantitative", "scale": {"domain": [-0.157, 3.3], "nice": false, "zero": false}, "axis": {"title": null, "values": [0, 0.5, 1, 1.5, 2, 2.5, 3], "format": ".1f"}},
       "y": {"field": "y", "type": "quantitative", "scale": {"domain": [-0.441, 0.4385], "nice": false, "zero": false}, "axis": {"title": null, "values": [-0.4, -0.3, -0.2, -0.1, 0, 0.1, 0.2, 0.3, 0.4], "format": ".1f"}},
       "detail": {"field": "e"}, "order": {"field": "k", "type": "quantitative"}}},
     {"data": {"values": [{}]}, "mark": {"type": "rule", "color": "#9a9a9a", "strokeWidth": 4}, "encoding": {"y": {"datum": 0.4385}}}
    ]},
   {"width": 860, "height": 640, "title": {"text": "(e)", "dx": -14},
    "layer": [
     {"data": {"name": "shapes"}, "transform": [{"filter": "datum.p === 'e'"}],
      "mark": {"type": "line", "interpolate": "catmull-rom", "color": "#000", "strokeWidth": 4, "strokeCap": "round", "strokeJoin": "round"},
      "encoding": {
       "x": {"field": "x", "type": "quantitative", "scale": {"domain": [-0.157, 3.3], "nice": false, "zero": false}, "axis": {"title": null, "values": [0, 0.5, 1, 1.5, 2, 2.5, 3], "format": ".1f"}},
       "y": {"field": "y", "type": "quantitative", "scale": {"domain": [-0.441, 0.4385], "nice": false, "zero": false}, "axis": {"title": null, "values": [-0.4, -0.3, -0.2, -0.1, 0, 0.1, 0.2, 0.3, 0.4], "format": ".1f"}},
       "detail": {"field": "e"}, "order": {"field": "k", "type": "quantitative"}}},
     {"data": {"values": [{}]}, "mark": {"type": "rule", "color": "#9a9a9a", "strokeWidth": 4}, "encoding": {"y": {"datum": 0.4385}}}
    ]}
  ], "spacing": 178},
  {"width": 860, "height": 640, "title": {"text": "(f)", "dx": -50},
   "layer": [
    {"data": {"name": "shapes"}, "transform": [{"filter": "datum.p === 'f'"}],
     "mark": {"type": "line", "interpolate": "catmull-rom", "color": "#000", "strokeWidth": 4, "strokeCap": "round", "strokeJoin": "round"},
     "encoding": {
      "x": {"field": "x", "type": "quantitative", "scale": {"domain": [-0.157, 3.3], "nice": false, "zero": false}, "axis": {"title": null, "values": [0, 0.5, 1, 1.5, 2, 2.5, 3], "format": ".1f"}},
      "y": {"field": "y", "type": "quantitative", "scale": {"domain": [-0.441, 0.4385], "nice": false, "zero": false}, "axis": {"title": null, "values": [-0.4, -0.3, -0.2, -0.1, 0, 0.1, 0.2, 0.3, 0.4], "format": ".1f"}},
      "detail": {"field": "e"}, "order": {"field": "k", "type": "quantitative"}}},
    {"data": {"values": [{}]}, "mark": {"type": "rule", "color": "#9a9a9a", "strokeWidth": 4}, "encoding": {"y": {"datum": 0.4385}}}
   ]}
 ], "spacing": 205}
],
"spacing": 82,
"config": {
 "view": {"stroke": "#3a3a3a", "strokeWidth": 2},
 "axis": {"grid": false, "domain": false, "tickSize": 7, "tickWidth": 1.5, "tickColor": "#333333", "labelFont": "DejaVu Sans", "labelFontSize": 23, "labelColor": "#2a2a2a", "labelPadding": 9},
 "axisX": {"labelPadding": 10},
 "title": {"orient": "bottom", "anchor": "middle", "font": "Liberation Serif", "fontSize": 72, "fontWeight": "bold", "color": "#000000", "offset": 114}
}
}
